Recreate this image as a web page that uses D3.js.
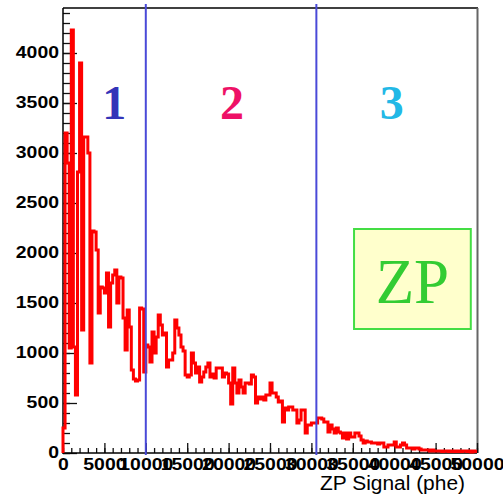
<!DOCTYPE html>
<html>
<head>
<meta charset="utf-8">
<script src="https://cdn.jsdelivr.net/npm/d3@7"></script>
<style>
body { margin: 0; background: #fff; }
</style>
</head>
<body>
<div class="container"></div>
<script>

// ZP signal histogram, 250 phe bins from 0 to 50000
const binWidth = 250
const counts = [
    250, 3200, 2900, 1050, 4230, 1060, 580, 2810, 3900, 1230,
    3160, 3160, 3000, 900, 2220, 2210, 2030, 1400, 1660, 1650,
    1600, 1800, 1260, 1700, 1780, 1830, 1500, 1760, 1750, 1350,
    1030, 1430, 1260, 830, 740, 720, 730, 1450, 1440, 810,
    1080, 1060, 910, 1210, 1000, 1160, 1380, 1280, 1180, 1200,
    860, 930, 930, 1000, 1330, 1250, 1180, 1060, 1020, 780,
    760, 780, 1000, 900, 800, 860, 710, 760, 810, 860,
    900, 760, 790, 750, 850, 850, 850, 760, 800, 790,
    700, 490, 850, 700, 600, 730, 660, 600, 700, 700,
    690, 780, 760, 500, 560, 540, 560, 530, 580, 580,
    700, 600, 600, 560, 510, 520, 310, 450, 430, 460,
    460, 430, 430, 300, 330, 430, 430, 200, 280, 280,
    300, 300, 300, 350, 350, 340, 310, 310, 210, 280,
    240, 200, 250, 210, 200, 150, 200, 140, 200, 160,
    160, 200, 200, 170, 130, 100, 120, 110, 110, 100,
    100, 100, 90, 100, 100, 60, 60, 80, 80, 80,
    110, 60, 60, 80, 100, 80, 50, 50, 50, 40,
    50, 50, 40, 30, 30, 30, 30, 20, 30, 20,
    20, 20, 20, 15, 20, 20, 15, 20, 15, 20,
    15, 20, 15, 20, 20, 15, 20, 10, 20, 15
]

const xTicks = [0, 5000, 10000, 15000, 20000, 25000, 30000, 35000, 40000, 45000, 50000]
const yTicks = [0, 500, 1000, 1500, 2000, 2500, 3000, 3500, 4000]

const regionCuts = [10000, 30600]
const regionLabels = ["1", "2", "3"]
const regionLabelAt = [6200, 20400, 39700]
const regionColors = ["#3434b8", "#ee1166", "#22b8e6"]

const xTitle = "ZP Signal (phe)"
const boxLabel = "ZP"

//Set Consts
const w = 503
const h = 496
const padL = 63, padR = 477, padT = 8, padB = 453
const tickFont = "'Liberation Sans', Arial, sans-serif"

const xScale = d3.scaleLinear()
.domain([0, 50000])
.range([padL, padR])

const yScale = d3.scaleLinear()
.domain([0, 4450])
.range([padB, padT])

const svg = d3.select(".container")
.append("svg")
.attr("width", w)
.attr("height", h)
.style("display", "block")

//frame
svg.append("line")
.attr("x1", padL).attr("x2", padR + 1)
.attr("y1", padT).attr("y2", padT)
.attr("stroke", "#000").attr("stroke-width", 1.5)

svg.append("line")
.attr("x1", padR + 0.5).attr("x2", padR + 0.5)
.attr("y1", padT).attr("y2", padB)
.attr("stroke", "#666").attr("stroke-width", 2)

//Axises
const yMinor = d3.axisLeft(yScale)
.tickValues(d3.range(0, 4401, 100))
.tickSize(-7)
.tickFormat("")

const yAxis = d3.axisLeft(yScale)
.tickValues(yTicks)
.tickSize(-14)
.tickPadding(4)
.tickFormat(d => String(d))

const xMinor = d3.axisBottom(xScale)
.tickValues(d3.range(0, 50001, 1000))
.tickSize(-5)
.tickFormat("")

const xAxis = d3.axisBottom(xScale)
.tickValues(xTicks)
.tickSize(-10)
.tickPadding(5)
.tickFormat(d => String(d))

svg.append("g")
.attr("transform", "translate(" + padL + ",0)")
.call(yMinor)

const yG = svg.append("g")
.attr("id", "y-axis")
.attr("transform", "translate(" + padL + ",0)")
.call(yAxis)

svg.append("g")
.attr("transform", "translate(0," + padB + ")")
.call(xMinor)

const xG = svg.append("g")
.attr("id", "x-axis")
.attr("transform", "translate(0," + padB + ")")
.call(xAxis)

svg.selectAll(".domain").remove()
svg.selectAll(".tick line").attr("stroke", "#111").attr("stroke-width", 1.3)

svg.selectAll("#x-axis text, #y-axis text")
.attr("font-family", tickFont)
.attr("font-size", 17)
.attr("font-weight", "bold")
.attr("fill", "#000")
.attr("textLength", d => String(d).length * 10.8)
.attr("lengthAdjust", "spacingAndGlyphs")

yG.selectAll("text").attr("dy", "0.24em")

svg.append("line")
.attr("x1", padL).attr("x2", padL)
.attr("y1", padT).attr("y2", padB + 1)
.attr("stroke", "#000").attr("stroke-width", 1.5)

svg.append("line")
.attr("x1", padL).attr("x2", padR)
.attr("y1", padB).attr("y2", padB)
.attr("stroke", "#000").attr("stroke-width", 1.5)

//histogram outline
const pts = [[0, 0]]
counts.forEach((c, i) => pts.push([i * binWidth, c]))
pts.push([counts.length * binWidth, counts[counts.length - 1]])

const line = d3.line()
.x(d => xScale(d[0]))
.y(d => yScale(d[1]))
.curve(d3.curveStepAfter)

svg.append("path")
.datum(pts)
.attr("d", line)
.attr("fill", "none")
.attr("stroke", "#ff0000")
.attr("stroke-width", 3)
.attr("stroke-linejoin", "miter")

//region cuts
svg.selectAll(".cut")
.data(regionCuts)
.enter()
.append("line")
.attr("class", "cut")
.attr("x1", d => xScale(d)).attr("x2", d => xScale(d))
.attr("y1", padT - 4).attr("y2", padB + 2)
.attr("stroke", "#4a4ad8")
.attr("stroke-width", 2)

svg.selectAll(".region")
.data(regionLabels)
.enter()
.append("text")
.attr("class", "region")
.attr("x", (d, i) => xScale(regionLabelAt[i]))
.attr("y", yScale(3340))
.attr("text-anchor", "middle")
.attr("font-family", "'Liberation Serif', 'Times New Roman', serif")
.attr("font-weight", "bold")
.attr("font-size", 48)
.attr("fill", (d, i) => regionColors[i])
.text(d => d)

//ZP box
const boxX = [35150, 49250]
const boxY = [2240, 1240]

svg.append("rect")
.attr("x", xScale(boxX[0]))
.attr("y", yScale(boxY[0]))
.attr("width", xScale(boxX[1]) - xScale(boxX[0]))
.attr("height", yScale(boxY[1]) - yScale(boxY[0]))
.attr("fill", "#ffffcc")
.attr("stroke", "#44dd44")
.attr("stroke-width", 2)

svg.append("text")
.attr("x", (xScale(boxX[0]) + xScale(boxX[1])) / 2)
.attr("y", yScale(1500))
.attr("text-anchor", "middle")
.attr("font-family", "'Liberation Serif', 'Times New Roman', serif")
.attr("font-size", 63)
.attr("fill", "#33cc33")
.text(boxLabel)

svg.append("text")
.attr("x", 465)
.attr("y", 490)
.attr("text-anchor", "end")
.attr("font-family", tickFont)
.attr("font-size", 20)
.attr("textLength", 145)
.attr("lengthAdjust", "spacingAndGlyphs")
.text(xTitle)

</script>
</body>
</html>
